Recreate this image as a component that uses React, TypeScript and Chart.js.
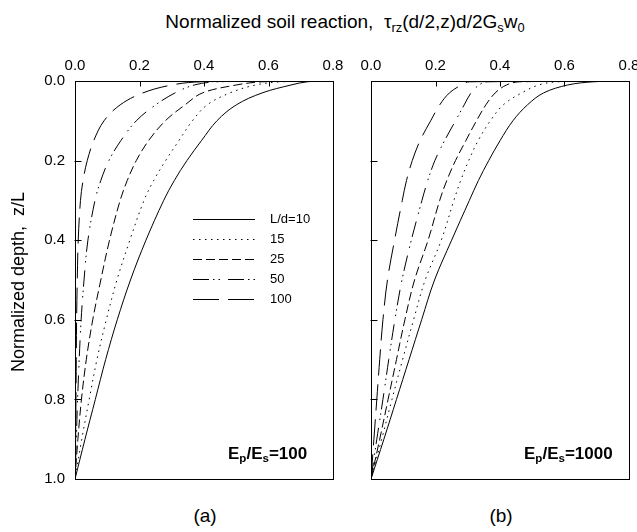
import React, { useEffect, useRef } from "react";
import { Chart, registerables } from "chart.js";

Chart.register(...registerables);

// Normalized depth z/L (shared grid for all curves)
const depth = [0, 0.002, 0.01, 0.03, 0.06, 0.1, 0.15, 0.2, 0.25, 0.3, 0.4, 0.5, 0.6, 0.7, 0.8, 0.9, 1.0];

const seriesLabels = ["L/d=10", "15", "25", "50", "100"];
const xTicks = [0, 0.2, 0.4, 0.6, 0.8];
const yTicks = [0, 0.2, 0.4, 0.6, 0.8, 1.0];

// Panel (a): Ep/Es = 100
const a10 = [0.79, 0.72, 0.67, 0.58, 0.5, 0.44, 0.392, 0.347, 0.308, 0.275, 0.22, 0.172, 0.131, 0.095, 0.063, 0.031, 0];
const a15 = [0.78, 0.64, 0.56, 0.48, 0.41, 0.364, 0.322, 0.281, 0.244, 0.214, 0.17, 0.13, 0.097, 0.068, 0.044, 0.021, 0];
const a25 = [0.76, 0.58, 0.5, 0.395, 0.341, 0.28, 0.228, 0.19, 0.162, 0.14, 0.107, 0.08, 0.055, 0.035, 0.02, 0.009, 0];
const a50 = [0.74, 0.44, 0.37, 0.31, 0.25, 0.19, 0.142, 0.105, 0.08, 0.062, 0.04, 0.028, 0.019, 0.013, 0.008, 0.004, 0];
const a100 = [0.72, 0.39, 0.3, 0.21, 0.14, 0.09, 0.058, 0.038, 0.025, 0.017, 0.01, 0.007, 0.005, 0.004, 0.003, 0.002, 0];

// Panel (b): Ep/Es = 1000
const b10 = [0.79, 0.69, 0.61, 0.535, 0.485, 0.44, 0.4, 0.365, 0.333, 0.305, 0.25, 0.197, 0.157, 0.118, 0.079, 0.04, 0];
const b15 = [0.77, 0.58, 0.52, 0.467, 0.41, 0.37, 0.332, 0.303, 0.278, 0.257, 0.218, 0.168, 0.132, 0.098, 0.065, 0.033, 0];
const b25 = [0.75, 0.46, 0.42, 0.385, 0.356, 0.327, 0.294, 0.262, 0.235, 0.213, 0.177, 0.135, 0.105, 0.079, 0.053, 0.027, 0];
const b50 = [0.73, 0.36, 0.335, 0.31, 0.289, 0.262, 0.228, 0.198, 0.176, 0.158, 0.125, 0.096, 0.074, 0.055, 0.037, 0.018, 0];
const b100 = [0.7, 0.305, 0.28, 0.243, 0.213, 0.185, 0.152, 0.128, 0.11, 0.097, 0.073, 0.051, 0.037, 0.027, 0.018, 0.009, 0];

const panelA = [a10, a15, a25, a50, a100];
const panelB = [b10, b15, b25, b50, b100];

// line styles
const dashes: number[][] = [[], [1.5, 4.5], [9, 4], [16, 4, 1.5, 4, 1.5, 8], [26, 9]];

const FONT = "'Liberation Sans', Arial, Helvetica, sans-serif";

const framePlugin = {
  id: "frame",
  afterDatasetsDraw(chart: any, _args: any, opts: any) {
    const { ctx, chartArea, scales } = chart;
    const { left, top, right, bottom } = chartArea;
    ctx.save();
    ctx.strokeStyle = "#000";
    ctx.lineWidth = 1;
    ctx.setLineDash([]);
    const L = Math.round(left) + 0.5;
    const T = Math.round(top) + 0.5;
    const R = Math.round(right) + 0.5;
    const B = Math.round(bottom) + 0.5;
    ctx.strokeRect(L, T, R - L, B - T);
    ctx.beginPath();
    for (const v of [0.2, 0.4, 0.6]) {
      const x = Math.round(scales.x.getPixelForValue(v)) + 0.5;
      ctx.moveTo(x, T);
      ctx.lineTo(x, T + 5);
    }
    for (const v of [0.2, 0.4, 0.6, 0.8]) {
      const y = Math.round(scales.y.getPixelForValue(v)) + 0.5;
      ctx.moveTo(L - 1, y);
      ctx.lineTo(L + 6, y);
    }
    ctx.stroke();
    if (opts && opts.legend) {
      ctx.font = `13px ${FONT}`;
      ctx.fillStyle = "#000";
      ctx.textBaseline = "middle";
      ctx.textAlign = "left";
      chart.data.datasets.forEach((ds: any, i: number) => {
        const y = Math.round(top + 138 + i * 20) + 0.5;
        ctx.beginPath();
        ctx.setLineDash(ds.borderDash || []);
        ctx.moveTo(left + 118, y);
        ctx.lineTo(left + 180, y);
        ctx.stroke();
        ctx.fillText(ds.label, left + 195, y);
      });
    }
    ctx.restore();
  },
};

const noPad = (s: any) => {
  s.paddingLeft = 0;
  s.paddingRight = 0;
  s.paddingTop = 0;
  s.paddingBottom = 0;
};

function makeConfig(values: number[][], showYLabels: boolean, padRight: number, yWidth: number) {
  return {
    type: "scatter" as const,
    data: {
      datasets: values.map((vals, i) => ({
        label: seriesLabels[i],
        data: depth.map((z, j) => ({ x: vals[j], y: z })),
        showLine: true,
        borderColor: "#000",
        borderWidth: 1,
        borderDash: dashes[i],
        pointRadius: 0,
        fill: false,
        tension: 0.35,
      })),
    },
    options: {
      animation: false as const,
      responsive: false,
      layout: { padding: { left: 0, right: padRight, top: 0, bottom: 11 } },
      plugins: {
        legend: { display: false },
        tooltip: { enabled: false },
        frame: { legend: showYLabels },
      },
      scales: {
        x: {
          type: "linear" as const,
          position: "top" as const,
          min: 0,
          max: 0.8,
          afterBuildTicks: (s: any) => {
            s.ticks = xTicks.map((v) => ({ value: v }));
          },
          afterFit: (s: any) => {
            s.height = 41;
            noPad(s);
          },
          ticks: {
            color: "#000",
            font: { family: FONT, size: 15 },
            padding: 6,
            maxRotation: 0,
            autoSkip: false,
            callback: (v: any) => Number(v).toFixed(1),
          },
          grid: { display: false, drawTicks: false },
          border: { display: false },
        },
        y: {
          type: "linear" as const,
          reverse: true,
          min: 0,
          max: 1,
          afterBuildTicks: (s: any) => {
            s.ticks = yTicks.map((v) => ({ value: v }));
          },
          afterFit: (s: any) => {
            s.width = yWidth;
            noPad(s);
          },
          ticks: {
            display: showYLabels,
            color: "#000",
            font: { family: FONT, size: 15 },
            padding: 10,
            autoSkip: false,
            callback: (v: any) => Number(v).toFixed(1),
          },
          grid: { display: false, drawTicks: false },
          border: { display: false },
        },
      },
    },
    plugins: [framePlugin],
  };
}

const subStyle: React.CSSProperties = { fontSize: "0.68em", verticalAlign: "-0.3em", lineHeight: 0 };

export default function App() {
  const refA = useRef<HTMLCanvasElement>(null);
  const refB = useRef<HTMLCanvasElement>(null);

  useEffect(() => {
    const ca = new Chart(refA.current as HTMLCanvasElement, makeConfig(panelA, true, 12, 75) as any);
    const cb = new Chart(refB.current as HTMLCanvasElement, makeConfig(panelB, false, 37, 25) as any);
    return () => {
      ca.destroy();
      cb.destroy();
    };
  }, []);

  const base: React.CSSProperties = { position: "absolute", fontFamily: FONT, color: "#000", whiteSpace: "nowrap" };

  return (
    <div style={{ position: "absolute", left: 0, top: 0, width: 637, height: 532, overflow: "hidden", background: "#fff" }}>
      <canvas ref={refA} width={345} height={450} style={{ position: "absolute", left: 0, top: 40, width: 345, height: 450 }} />
      <canvas ref={refB} width={320} height={450} style={{ position: "absolute", left: 346, top: 40, width: 320, height: 450 }} />
      <div style={{ ...base, left: 45, top: 12, width: 600, textAlign: "center", fontSize: 19, lineHeight: "19px" }}>
        Normalized soil reaction,{"\u00a0\u00a0"}τ<sub style={subStyle}>rz</sub>(d/2,z)d/2G<sub style={subStyle}>s</sub>w<sub style={subStyle}>0</sub>
      </div>
      <div
        style={{
          ...base,
          left: 18 - 150,
          top: 282 - 10,
          width: 300,
          height: 20,
          lineHeight: "20px",
          textAlign: "center",
          fontSize: 18,
          transform: "rotate(-90deg)",
          transformOrigin: "50% 50%",
        }}
      >
        Normalized depth,{"\u00a0\u00a0"}z/L
      </div>
      <div style={{ ...base, left: 228, top: 445, fontSize: 17, lineHeight: "17px", fontWeight: "bold" }}>
        E<sub style={subStyle}>p</sub>/E<sub style={subStyle}>s</sub>=100
      </div>
      <div style={{ ...base, left: 524, top: 445, fontSize: 17, lineHeight: "17px", fontWeight: "bold" }}>
        E<sub style={subStyle}>p</sub>/E<sub style={subStyle}>s</sub>=1000
      </div>
      <div style={{ ...base, left: 155, top: 506, width: 100, textAlign: "center", fontSize: 19, lineHeight: "19px" }}>(a)</div>
      <div style={{ ...base, left: 451, top: 506, width: 100, textAlign: "center", fontSize: 19, lineHeight: "19px" }}>(b)</div>
    </div>
  );
}
